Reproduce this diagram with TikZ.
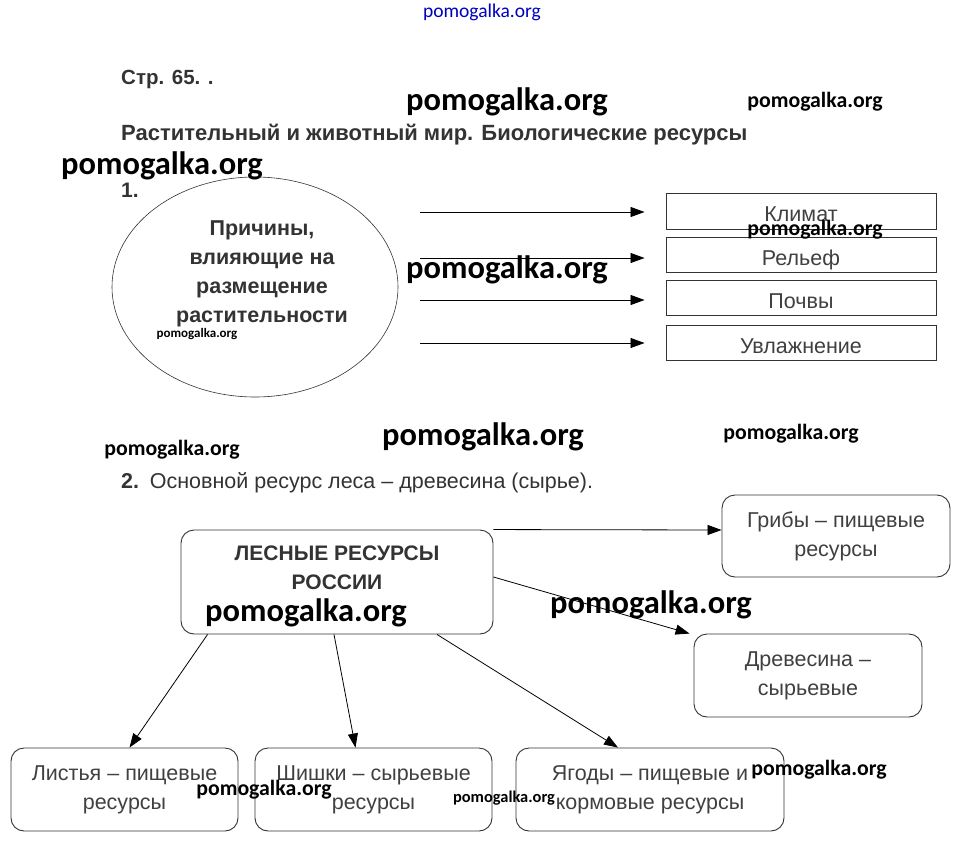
\documentclass[tikz,border=0pt]{standalone}
\usepackage{fontspec}
\setmainfont{Liberation Sans}
\newfontfamily\wmfont{Carlito}
\usetikzlibrary{arrows.meta,shapes.geometric}
\definecolor{tgray}{HTML}{333333}
\definecolor{lgray}{HTML}{404040}
\begin{document}
\begin{tikzpicture}[x=1pt,y=-1pt,
  wm/.style={font=\wmfont\bfseries\fontsize{#1}{#1}\selectfont, inner sep=0, text=black},
  head/.style={anchor=base west, inner sep=0, text=tgray},
  box/.style={draw=tgray, line width=0.9pt, inner sep=0, text=lgray, align=center,
    font=\fontsize{21.5}{29}\selectfont},
  sbox/.style={box, minimum width=270, text height=21pt, text depth=0pt},
  rbox/.style={box, rounded corners=13pt},
  conn/.style={draw=black, line width=0.8pt, -{Triangle[length=14pt,width=10pt]}},
]
\useasboundingbox (0,0) rectangle (962,849);
\fill[white] (0,0) rectangle (962,849);

% top watermark
\node[font=\wmfont\fontsize{19.5}{19.5}\selectfont, text=blue!75!black, inner sep=0] (wtop) at (482,12) {pomogalka.org};

% headings
\node[head, font=\bfseries\fontsize{20.5}{20.5}\selectfont] (h1) at (121,84) {Стр. 65. .};
\node[head, font=\bfseries\fontsize{22}{22}\selectfont] (h2) at (121,140) {Растительный и животный мир. Биологические ресурсы};
\node[head, font=\bfseries\fontsize{21}{21}\selectfont] (n1) at (121,197) {1.};

% section 1
\node[draw=tgray, line width=0.6pt, ellipse, inner sep=0, minimum width=286, minimum height=220] (ell) at (255,287) {};
\node[align=center, inner sep=0, text=tgray, font=\bfseries\fontsize{21.5}{29}\selectfont] (elltext) at (262,273.5)
  {Причины,\\влияющие на\\размещение\\растительности};

\node[sbox, minimum height=36] (klimat) at (801,211) {Климат};
\node[sbox, minimum height=35] (relief) at (801,254.5) {Рельеф};
\node[sbox, minimum height=35] (pochvy) at (801,297.5) {Почвы};
\node[sbox, minimum height=35] (uvl) at (801,342.5) {Увлажнение};

\coordinate (s1) at (420,212);
\coordinate (s2) at (420,258);
\coordinate (s3) at (420,300);
\coordinate (s4) at (420,343);
\draw[conn] (s1) -- ([xshift=-21pt]s1 -| klimat.west);
\draw[conn] (s2) -- ([xshift=-21pt]s2 -| relief.west);
\draw[conn] (s3) -- ([xshift=-21pt]s3 -| pochvy.west);
\draw[conn] (s4) -- ([xshift=-21pt]s4 -| uvl.west);

% section 2 heading
\node[head, font=\fontsize{21.5}{21.5}\selectfont] (n2) at (121,488) {\textbf{2.}\enspace Основной ресурс леса -- древесина (сырье).};

% section 2 diagram
\node[rbox, minimum width=312, minimum height=104, font=\bfseries\fontsize{21}{29}\selectfont, text=tgray] (les) at (337,582)
  {ЛЕСНЫЕ РЕСУРСЫ\\РОССИИ\\[-10pt]\strut};
\node[rbox, minimum width=228, minimum height=82] (griby) at (836,536) {Грибы -- пищевые\\ресурсы};
\node[rbox, minimum width=228, minimum height=83] (drev) at (808,675.5) {Древесина --\\сырьевые};
\node[rbox, minimum width=227, minimum height=83] (listya) at (124.5,789.5) {Листья -- пищевые\\ресурсы};
\node[rbox, minimum width=237, minimum height=83] (shishki) at (373.5,789.5) {Шишки -- сырьевые\\ресурсы};
\node[rbox, minimum width=268, minimum height=83] (yagody) at (650,789.5) {Ягоды -- пищевые и\\кормовые ресурсы};

\draw[conn] (les.north east) -- ([yshift=6pt]griby.west);
\draw[conn] ([yshift=5pt]les.east) -- ([xshift=-4pt]drev.north west);
\draw[conn] ([xshift=27pt]les.south west) -- ([xshift=5pt]listya.north);
\draw[conn] ([xshift=-3pt]les.south) -- ([xshift=-18pt]shishki.north);
\draw[conn] ([xshift=100pt]les.south) -- ([xshift=-32pt]yagody.north);

% watermarks
\node[wm=32.5] (w1) at (507,102) {pomogalka.org};
\node[wm=21.8] (w2) at (815,102) {pomogalka.org};
\node[wm=32.5] (w3) at (162,166) {pomogalka.org};
\node[wm=21.8] (w4) at (815,230) {pomogalka.org};
\node[wm=32.5] (w5) at (507,270) {pomogalka.org};
\node[wm=13] (w6) at (197,334) {pomogalka.org};
\node[wm=21.8] (w7) at (172,450) {pomogalka.org};
\node[wm=32.5] (w8) at (483,437) {pomogalka.org};
\node[wm=21.8] (w9) at (791,434) {pomogalka.org};
\node[wm=32.5] (w10) at (306,613) {pomogalka.org};
\node[wm=32.5] (w11) at (651,605) {pomogalka.org};
\node[wm=21.8] (w12) at (264,790) {pomogalka.org};
\node[wm=16.4] (w13) at (504,798) {pomogalka.org};
\node[wm=21.8] (w14) at (819,770) {pomogalka.org};
\end{tikzpicture}
\end{document}
